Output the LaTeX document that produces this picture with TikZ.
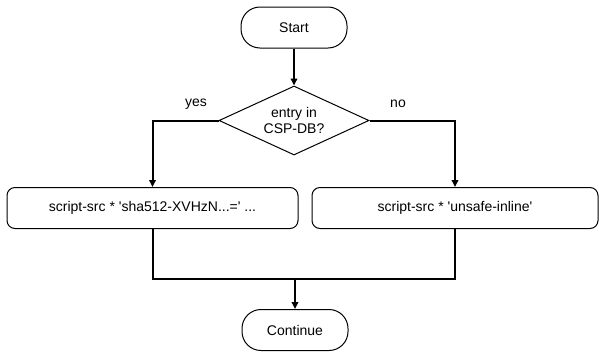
\documentclass[tikz,border=0pt]{standalone}
\usepackage{fontspec}
\setmainfont{Liberation Sans}
\usetikzlibrary{shapes.geometric, positioning, arrows.meta}
\newcommand{\sq}{\textquotesingle}

\begin{document}
\begin{tikzpicture}[x=1pt, y=-1pt,
        terminal/.style={draw, line width=1pt, rounded corners=19pt,
            minimum width=106pt, minimum height=41pt, font=\fontsize{14}{16}\selectfont},
        decision/.style={draw, diamond, aspect=2.17, inner sep=0pt, line width=1pt,
            minimum width=150pt, minimum height=69pt, align=center,
            font=\fontsize{14}{16}\selectfont},
        process/.style={draw, line width=1pt, rounded corners=8pt,
            minimum height=41pt, font=\fontsize{14}{16}\selectfont},
        flow/.style={line width=2pt},
        arrow/.style={flow, -{Triangle[length=7pt, width=6.5pt]}},
        branch/.style={font=\fontsize{14}{16}\selectfont}
    ]
        \useasboundingbox (0, 0) rectangle (599, 354);

        \node[terminal] (start) at (294, 27.5) {Start};
        \node[decision] (check) at (294, 120.5) {entry in\\CSP-DB?};
        \node[process, minimum width=291pt] (hash) at (152.5, 208) {script-src * \sq sha512-XVHzN...=\sq{} ...};
        \node[process, minimum width=286pt] (inline) at (455, 208) {script-src * \sq unsafe-inline\sq};
        \node[terminal] (cont) at (295, 330) {Continue};
        \coordinate (merge) at (295, 279);

        \draw[arrow] (start) -- (check);
        \draw[arrow] (check.west) -| (hash.north);
        \draw[arrow] (check.east) -| (inline.north);
        \draw[flow] (hash.south) |- (merge) -| (inline.south);
        \draw[arrow] (merge) -- (cont);

        \node[branch] (yes) at (196, 104) {yes};
        \node[branch] (no) at (398, 104) {no};
    \end{tikzpicture}
\end{document}
